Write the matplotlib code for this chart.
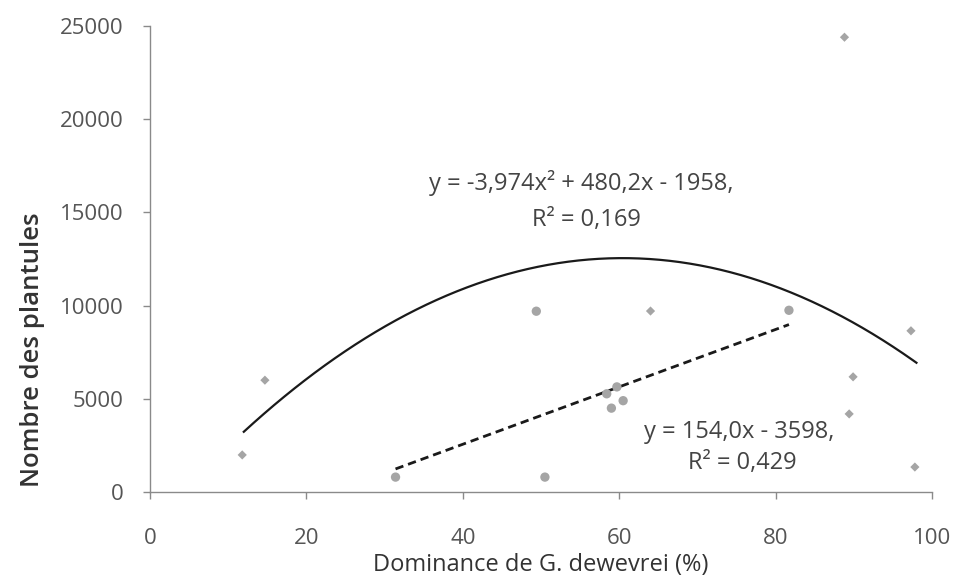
import numpy as np
import matplotlib
matplotlib.use("Agg")
import matplotlib.pyplot as plt

# Data
circle_x = [31.4, 49.4, 50.5, 58.4, 59.0, 59.7, 60.5, 81.7]
circle_y = [800, 9700, 800, 5270, 4500, 5640, 4900, 9750]
diamond_x = [11.8, 14.7, 64.0, 88.8, 89.4, 89.9, 97.3, 97.8]
diamond_y = [1990, 6000, 9710, 24400, 4190, 6180, 8650, 1340]

# Trend line coefficients (from equations shown on chart)
quad_coef = [-3.974, 480.2, -1958]
quad_range = [12, 98]
lin_coef = [154.0, -3598]
lin_range = [31.4, 81.7]

xticks = [0, 20, 40, 60, 80, 100]
yticks = [0, 5000, 10000, 15000, 20000, 25000]

plt.rcParams['font.family'] = ['Open Sans', 'DejaVu Sans']

fig = plt.figure(figsize=(9.55, 5.76), dpi=100)
ax = fig.add_axes([0.157, 0.1458, 0.819, 0.809])

xq = np.linspace(quad_range[0], quad_range[1], 200)
ax.plot(xq, np.polyval(quad_coef, xq), color='#1a1a1a', lw=1.6, zorder=2)
xl = np.array(lin_range)
ax.plot(xl, np.polyval(lin_coef, xl), color='#1a1a1a', lw=2.0, ls=(0, (3, 1.8)), zorder=2)

ax.scatter(circle_x, circle_y, marker='o', s=45, color='#a5a5a5', edgecolors='none', zorder=3)
ax.scatter(diamond_x, diamond_y, marker='D', s=22, color='#a5a5a5', edgecolors='none', zorder=3)

ax.set_xlim(0, 100)
ax.set_ylim(0, 25000)
ax.set_xticks(xticks)
ax.set_yticks(yticks)
ax.tick_params(axis='both', colors='#8a8a8a', labelcolor='#555555', labelsize=16, length=5, width=1)
ax.tick_params(axis='x', pad=21)
ax.tick_params(axis='y', pad=14)
for s in ['top', 'right']:
    ax.spines[s].set_visible(False)
for s in ['left', 'bottom']:
    ax.spines[s].set_color('#8a8a8a')
    ax.spines[s].set_linewidth(1)

ax.set_xlabel('Dominance de G. dewevrei (%)', fontsize=17, color='#333333')
ax.xaxis.set_label_coords(0.5, -0.157)
ax.xaxis.label.set_va('center')
ax.set_ylabel('Nombre des plantules', fontsize=18.5, color='#333333', fontweight='semibold')
ax.yaxis.set_label_coords(-0.150, 0.305)
ax.yaxis.label.set_va('center')
ax.yaxis.label.set_ha('center')

tcol = '#444444'
ax.text(55.1, 16580, 'y = -3,974x² + 480,2x - 1958,', ha='center', va='center', fontsize=17, color=tcol)
ax.text(55.8, 14590, 'R² = 0,169', ha='center', va='center', fontsize=17, color=tcol)
ax.text(75.4, 3220, 'y = 154,0x - 3598,', ha='center', va='center', fontsize=17, color=tcol)
ax.text(75.7, 1555, 'R² = 0,429', ha='center', va='center', fontsize=17, color=tcol)

fig.savefig('out.png', dpi=100)
